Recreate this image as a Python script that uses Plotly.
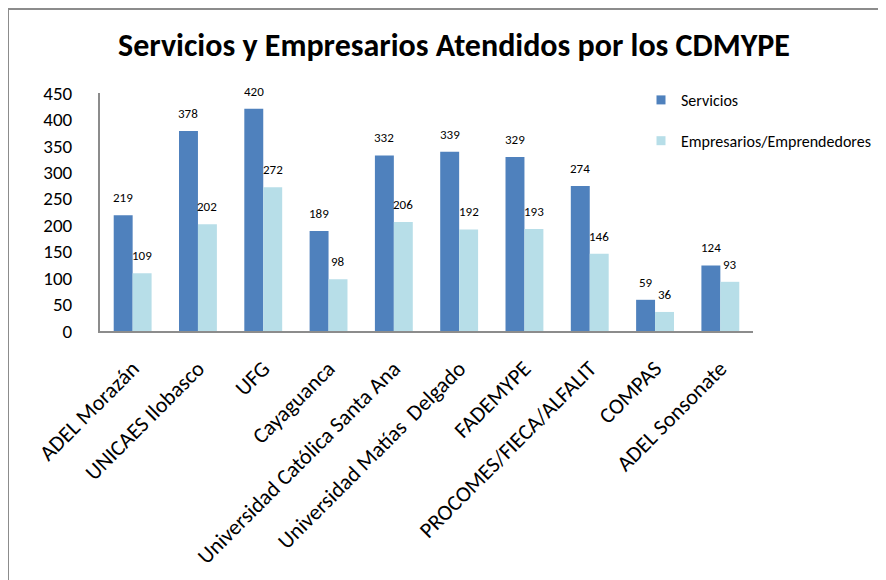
import plotly.graph_objects as go

categories = ["ADEL Morazán", "UNICAES Ilobasco", "UFG", "Cayaguanca",
              "Universidad Católica Santa Ana", "Universidad Matías  Delgado",
              "FADEMYPE", "PROCOMES/FIECA/ALFALIT", "COMPAS", "ADEL Sonsonate"]
servicios = [219, 378, 420, 189, 332, 339, 329, 274, 59, 124]
empresarios = [109, 202, 272, 98, 206, 192, 193, 146, 36, 93]
y_ticks = [0, 50, 100, 150, 200, 250, 300, 350, 400, 450]
series_names = ["Servicios", "Empresarios/Emprendedores"]
series_colors = ["#4F81BD", "#B7DEE8"]

FONT = "Carlito, Lato, 'Open Sans', sans-serif"
# page has 8px body margin: figure coords = page coords - 8
W, H = 878, 572
L, R, T, B = 92, 133, 85, 249
pw, ph = W - L - R, H - T - B

fig = go.Figure()
for name, vals, col in zip(series_names, [servicios, empresarios], series_colors):
    fig.add_trace(go.Bar(x=categories, y=vals, name=name,
                         marker=dict(color=col, line=dict(width=0)),
                         showlegend=False))
for i, (name, col) in enumerate(zip(series_names, series_colors)):
    fig.add_trace(go.Scatter(x=[None], y=[None], mode="markers", name=name,
                             marker=dict(symbol="square", size=9, color=col),
                             legendgroup="g%d" % i, showlegend=True))

annots = []
for vals, xs in ((servicios, -9.5), (empresarios, 9.5)):
    for c, v in zip(categories, vals):
        annots.append(dict(x=c, y=v, text=str(v), showarrow=False, xshift=xs,
                           yshift=8, yanchor="bottom",
                           font=dict(size=13, color="#000", family=FONT)))

# outer chart frame (gray border top/left)
shapes = [dict(type="rect", xref="paper", yref="paper",
               x0=(0 - L) / pw, x1=(W + 40 - L) / pw,
               y0=(H - B - (H + 40)) / ph, y1=(H - B - 1) / ph,
               line=dict(color="#8C8C8C", width=2), layer="below")]

fig.update_layout(
    width=W, height=H,
    margin=dict(l=L, r=R, t=T, b=B, pad=0, autoexpand=False),
    paper_bgcolor="white", plot_bgcolor="white",
    barmode="group", bargap=0.42, bargroupgap=0,
    title=dict(text="<b>Servicios y Empresarios Atendidos por los CDMYPE</b>",
               x=446 / W, xanchor="center", y=1 - 37 / H, yanchor="middle",
               font=dict(size=32, color="#000", family=FONT)),
    legend=dict(x=(633 - L) / pw, y=(H - B - 75) / ph, xanchor="left", yanchor="top",
                font=dict(size=16, color="#000", family=FONT),
                traceorder="grouped", tracegroupgap=17,
                bgcolor="rgba(0,0,0,0)"),
    xaxis=dict(tickangle=-45, tickfont=dict(size=22, color="#000", family=FONT),
               showline=True, linecolor="#8C8C8C", linewidth=2, ticks="",
               showgrid=False, ticklabelstandoff=14, automargin=False),
    yaxis=dict(range=[0, 450], tickvals=y_ticks,
               tickfont=dict(size=19, color="#000", family=FONT),
               showline=True, linecolor="#8C8C8C", linewidth=2, ticks="",
               showgrid=False, zeroline=False, ticklabelstandoff=22, automargin=False),
    annotations=annots,
    shapes=shapes,
)

fig.write_html("out.html")
